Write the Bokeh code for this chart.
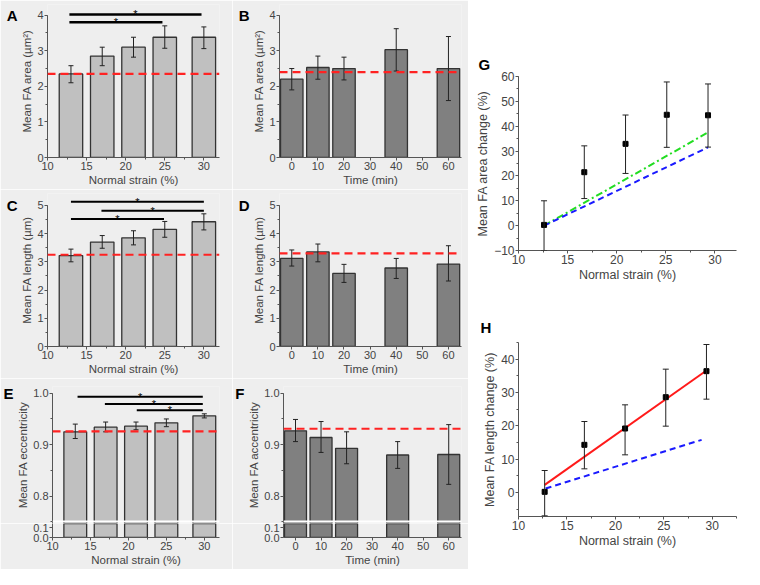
from bokeh.plotting import figure
from bokeh.layouts import row, column
from bokeh.models import (ColumnDataSource, Whisker, TeeHead, Span, Title, Range1d, LinearAxis,
                          SingleIntervalTicker, FixedTicker, NumeralTickFormatter)
from bokeh.core.properties import value
from bokeh.embed import file_html
from bokeh.resources import INLINE

FONT = "Liberation Sans"
BG = "#eeeeee"
LIGHT = "#c0c0c0"
DARK = "#808080"

# ---------------- data ----------------
strain_bar = [13, 17, 21, 25, 30]
time_bar = [0, 10, 20, 40, 60]

areaA = [2.35, 2.85, 3.10, 3.38, 3.38]
areaA_lo = [2.10, 2.58, 2.82, 3.07, 3.06]
areaA_hi = [2.58, 3.10, 3.38, 3.70, 3.67]
areaA_ref = 2.35
sigA_x0 = [12.8, 12.8]
sigA_x1 = [29.7, 24.7]
sigA_y = [4.02, 3.80]

areaB = [2.20, 2.53, 2.50, 3.03, 2.50]
areaB_lo = [1.90, 2.20, 2.18, 2.43, 1.60]
areaB_hi = [2.50, 2.85, 2.82, 3.62, 3.40]
areaB_ref = 2.40

lenC = [3.22, 3.70, 3.85, 4.15, 4.42]
lenC_lo = [3.00, 3.48, 3.60, 3.87, 4.13]
lenC_hi = [3.45, 3.93, 4.10, 4.43, 4.70]
lenC_ref = 3.25
sigC_x0 = [13.0, 16.9, 13.0]
sigC_x1 = [30.0, 30.0, 24.9]
sigC_y = [5.13, 4.81, 4.52]

lenD = [3.12, 3.35, 2.59, 2.78, 2.92]
lenD_lo = [2.85, 3.00, 2.27, 2.41, 2.32]
lenD_hi = [3.42, 3.63, 2.91, 3.12, 3.57]
lenD_ref = 3.30

eccE = [0.925, 0.934, 0.936, 0.9425, 0.956]
eccE_lo = [0.912, 0.925, 0.929, 0.935, 0.952]
eccE_hi = [0.940, 0.944, 0.944, 0.950, 0.960]
eccE_ref = 0.926
sigE_x0 = [13.3, 16.9, 21.1]
sigE_x1 = [29.8, 29.8, 29.8]
sigE_y = [0.993, 0.979, 0.967]

eccF = [0.927, 0.914, 0.893, 0.880, 0.881]
eccF_lo = [0.906, 0.885, 0.863, 0.854, 0.823]
eccF_hi = [0.949, 0.945, 0.925, 0.906, 0.939]
eccF_ref = 0.931

strain_pts = [12.6, 16.7, 20.9, 25.1, 29.3]
areaG = [0.3, 21.5, 32.9, 44.6, 44.4]
areaG_lo = [-10.0, 10.9, 21.0, 31.5, 31.6]
areaG_hi = [10.0, 32.1, 44.5, 57.8, 57.0]
G_green_x = [12.6, 29.3]
G_green_y = [0.0, 37.5]
G_blue_x = [12.6, 29.3]
G_blue_y = [0.0, 31.5]

strain_ptsH = [12.7, 16.8, 21.0, 25.2, 29.4]
lenH = [0.2, 14.3, 19.2, 28.6, 36.4]
lenH_lo = [-7.0, 7.1, 11.3, 19.9, 28.0]
lenH_hi = [6.6, 21.3, 26.3, 37.0, 44.4]
H_red_x = [12.7, 29.4]
H_red_y = [2.3, 36.6]
H_blue_x = [12.8, 28.9]
H_blue_y = [1.2, 15.8]


# ---------------- helpers ----------------
def style_axes(p, tick_size="11px", label_size="11.5px"):
    for ax in p.axis:
        ax.axis_label_text_font = FONT
        ax.axis_label_text_font_size = label_size
        ax.axis_label_text_font_style = "normal"
        ax.axis_label_text_color = "#444444"
        ax.major_label_text_font = FONT
        ax.major_label_text_font_size = tick_size
        ax.major_label_text_color = "#444444"
        ax.axis_line_color = "#555555"
        ax.major_tick_line_color = "#555555"
        ax.minor_tick_line_color = "#555555"
        ax.major_tick_out = 3
        ax.major_tick_in = 0
        ax.minor_tick_out = 2
        ax.minor_tick_in = 0
        ax.major_label_standoff = 1
        ax.axis_label_standoff = 1


def make_fig(w, h, xr, yr, borders, bg, x_axis=True):
    p = figure(width=w, height=h, x_range=Range1d(*xr), y_range=Range1d(*yr),
               output_backend="svg", toolbar_location=None,
               x_axis_location="below" if x_axis else None,
               min_border_left=borders[0], min_border_right=borders[1],
               min_border_top=borders[2], min_border_bottom=borders[3])
    p.background_fill_color = bg
    p.border_fill_color = bg
    p.outline_line_color = None
    p.xgrid.visible = False
    p.ygrid.visible = False
    return p


def add_bars(p, xs, vals, lo, hi, width, color, whiskers=True):
    src = ColumnDataSource(dict(x=xs, top=vals, lo=lo, hi=hi))
    p.vbar(x="x", top="top", bottom=0, width=width, source=src,
           fill_color=color, line_color="#333333", line_width=1.3)
    if whiskers:
        w = Whisker(base="x", upper="hi", lower="lo", source=src,
                    line_color="#222222", line_width=1,
                    upper_head=TeeHead(size=5, line_color="#222222", line_width=1),
                    lower_head=TeeHead(size=5, line_color="#222222", line_width=1))
        w.level = "annotation"
        p.add_layout(w)


def add_ref(p, loc):
    p.add_layout(Span(location=loc, dimension="width", line_color="#ff2222",
                      line_dash="8 5", line_width=2.2))


def add_sig(p, x0, x1, y, lw=2.5):
    p.segment(x0=x0, y0=y, x1=x1, y1=y, line_color="black", line_width=lw)
    mids = [(a + b) / 2 for a, b in zip(x0, x1)]
    p.text(x=mids, y=y, text=["*"] * len(y), text_align="center",
           text_baseline="alphabetic", text_font=value(FONT),
           text_font_size="11px", text_color="black")


def add_letter_axis(p, letter, tick):
    ax = LinearAxis(ticker=FixedTicker(ticks=[tick]),
                    major_label_overrides={tick: letter})
    ax.axis_line_color = None
    ax.major_tick_line_color = None
    ax.minor_tick_line_color = None
    ax.major_tick_out = 0
    ax.major_tick_in = 0
    ax.major_label_standoff = 1
    ax.major_label_text_font = FONT
    ax.major_label_text_font_size = "15px"
    ax.major_label_text_font_style = "bold"
    ax.major_label_text_color = "black"
    p.add_layout(ax, "left")


def add_letter_title(p, letter, offset, standoff):
    p.add_layout(Title(text=letter, align="left", offset=offset, standoff=standoff,
                       text_font=FONT, text_font_size="15px", text_font_style="bold",
                       text_color="black"), "above")


W1, W2 = 232, 236
B1 = (47, 13)
B2 = (47, 7)
SX = (10, 32)
TX = (-4.7, 65)

# ---------------- A ----------------
pA = make_fig(W1, 189, SX, (0, 4.3), (B1[0], B1[1], 4, 32), BG)
add_bars(pA, strain_bar, areaA, areaA_lo, areaA_hi, 3, LIGHT)
add_ref(pA, areaA_ref)
add_sig(pA, sigA_x0, sigA_x1, sigA_y)
pA.xaxis.axis_label = "Normal strain (%)"
pA.yaxis.axis_label = "Mean FA area (µm²)"
pA.xaxis.ticker = SingleIntervalTicker(interval=5, num_minor_ticks=2)
pA.yaxis.ticker = SingleIntervalTicker(interval=1, num_minor_ticks=2)
pA.yaxis.bounds = (0, 4)
style_axes(pA)
add_letter_axis(pA, "A", 4)

# ---------------- B ----------------
pB = make_fig(W2, 189, TX, (0, 4.3), (B2[0], B2[1], 4, 32), BG)
add_bars(pB, time_bar, areaB, areaB_lo, areaB_hi, 8.6, DARK)
add_ref(pB, areaB_ref)
pB.xaxis.axis_label = "Time (min)"
pB.yaxis.axis_label = "Mean FA area (µm²)"
pB.xaxis.ticker = SingleIntervalTicker(interval=10, num_minor_ticks=0)
pB.yaxis.ticker = SingleIntervalTicker(interval=1, num_minor_ticks=2)
pB.yaxis.bounds = (0, 4)
style_axes(pB)
add_letter_axis(pB, "B", 4)

# ---------------- C ----------------
pC = make_fig(W1, 189, SX, (0, 5.42), (B1[0], B1[1], 4, 32), BG)
add_bars(pC, strain_bar, lenC, lenC_lo, lenC_hi, 3, LIGHT)
add_ref(pC, lenC_ref)
add_sig(pC, sigC_x0, sigC_x1, sigC_y, lw=2)
pC.xaxis.axis_label = "Normal strain (%)"
pC.yaxis.axis_label = "Mean FA length (µm)"
pC.xaxis.ticker = SingleIntervalTicker(interval=5, num_minor_ticks=2)
pC.yaxis.ticker = SingleIntervalTicker(interval=1, num_minor_ticks=2)
pC.yaxis.bounds = (0, 5)
style_axes(pC)
add_letter_axis(pC, "C", 5)

# ---------------- D ----------------
pD = make_fig(W2, 189, TX, (0, 5.42), (B2[0], B2[1], 4, 32), BG)
add_bars(pD, time_bar, lenD, lenD_lo, lenD_hi, 8.6, DARK)
add_ref(pD, lenD_ref)
pD.xaxis.axis_label = "Time (min)"
pD.yaxis.axis_label = "Mean FA length (µm)"
pD.xaxis.ticker = SingleIntervalTicker(interval=10, num_minor_ticks=0)
pD.yaxis.ticker = SingleIntervalTicker(interval=1, num_minor_ticks=2)
pD.yaxis.bounds = (0, 5)
style_axes(pD)
add_letter_axis(pD, "D", 5)

# ---------------- E / F (broken axis) ----------------
UP = (0.747, 1.013)
LOW = (0, 0.14)


def upper_part(w, b, xr, xs, vals, lo, hi, width, color, ref, label, letter):
    p = make_fig(w, 145, xr, UP, (b[0], b[1], 8, 0), BG, x_axis=False)
    add_bars(p, xs, vals, lo, hi, width, color)
    add_ref(p, ref)
    p.add_layout(Span(location=UP[0] + 0.004, dimension="width",
                      line_color="white", line_width=2))
    p.yaxis.axis_label = label
    p.yaxis.ticker = SingleIntervalTicker(interval=0.1, num_minor_ticks=2)
    p.yaxis.formatter = NumeralTickFormatter(format="0.0")
    p.yaxis.bounds = (UP[0], 1.0)
    style_axes(p)
    add_letter_axis(p, letter, 1.0)
    return p


def lower_part(w, b, xr, xs, vals, width, color, xlabel, xticker):
    p = make_fig(w, 46, xr, LOW, (b[0], b[1], 0, 32), BG)
    add_bars(p, xs, vals, vals, vals, width, color, whiskers=False)
    p.xaxis.axis_label = xlabel
    p.xaxis.ticker = xticker
    p.yaxis.ticker = FixedTicker(ticks=[0.0, 0.1])
    p.yaxis.formatter = NumeralTickFormatter(format="0.0")
    style_axes(p)
    return p


pEu = upper_part(W1, B1, SX, strain_bar, eccE, eccE_lo, eccE_hi, 3, LIGHT, eccE_ref,
                 "Mean FA eccentricity", "E")
add_sig(pEu, sigE_x0, sigE_x1, sigE_y, lw=2)
pEl = lower_part(W1, B1, SX, strain_bar, eccE, 3, LIGHT, "Normal strain (%)",
                 SingleIntervalTicker(interval=5, num_minor_ticks=2))
pFu = upper_part(W2, B2, TX, time_bar, eccF, eccF_lo, eccF_hi, 8.6, DARK, eccF_ref,
                 "Mean FA accentricity", "F")
pFl = lower_part(W2, B2, TX, time_bar, eccF, 8.6, DARK, "Time (min)",
                 SingleIntervalTicker(interval=10, num_minor_ticks=0))

# ---------------- G ----------------
pG = make_fig(276, 292, (10, 32.2), (-10, 60), (50, 8, 76, 42), "white")
srcG = ColumnDataSource(dict(x=strain_pts, y=areaG, lo=areaG_lo, hi=areaG_hi))
pG.line(G_green_x, G_green_y, line_color="#22dd22", line_width=2, line_dash="7 3 2 3")
pG.line(G_blue_x, G_blue_y, line_color="#1a1aff", line_width=2, line_dash="6 4")
wg = Whisker(base="x", upper="hi", lower="lo", source=srcG, line_color="#222222", line_width=1,
             upper_head=TeeHead(size=6, line_color="#222222", line_width=1),
             lower_head=TeeHead(size=6, line_color="#222222", line_width=1))
wg.level = "annotation"
pG.add_layout(wg)
pG.scatter("x", "y", source=srcG, marker="square", size=5, color="black")
pG.xaxis.axis_label = "Normal strain (%)"
pG.yaxis.axis_label = "Mean FA area change (%)"
pG.xaxis.ticker = SingleIntervalTicker(interval=5, num_minor_ticks=2)
pG.yaxis.ticker = SingleIntervalTicker(interval=10, num_minor_ticks=2)
style_axes(pG, tick_size="12px", label_size="12.5px")
add_letter_title(pG, "G", -40, 7)

# ---------------- H ----------------
pH = make_fig(276, 277, (10, 32.5), (-7.2, 45), (50, 8, 50, 53), "white")
srcH = ColumnDataSource(dict(x=strain_ptsH, y=lenH, lo=lenH_lo, hi=lenH_hi))
pH.line(H_red_x, H_red_y, line_color="#ff1a1a", line_width=2)
pH.line(H_blue_x, H_blue_y, line_color="#1a1aff", line_width=2, line_dash="6 4")
wh = Whisker(base="x", upper="hi", lower="lo", source=srcH, line_color="#222222", line_width=1,
             upper_head=TeeHead(size=6, line_color="#222222", line_width=1),
             lower_head=TeeHead(size=6, line_color="#222222", line_width=1))
wh.level = "annotation"
pH.add_layout(wh)
pH.scatter("x", "y", source=srcH, marker="square", size=5, color="black")
pH.xaxis.axis_label = "Normal strain (%)"
pH.yaxis.axis_label = "Mean FA length change (%)"
pH.xaxis.ticker = SingleIntervalTicker(interval=5, num_minor_ticks=2)
pH.yaxis.ticker = SingleIntervalTicker(interval=10, num_minor_ticks=2)
style_axes(pH, tick_size="12px", label_size="12.5px")
add_letter_title(pH, "H", -38, 13)

left = column(row(pA, pB), row(pC, pD),
              row(column(pEu, pEl), column(pFu, pFl)))
right = column(pG, pH)
layout = row(left, right)

open("out.html", "w").write(file_html(layout, INLINE))
